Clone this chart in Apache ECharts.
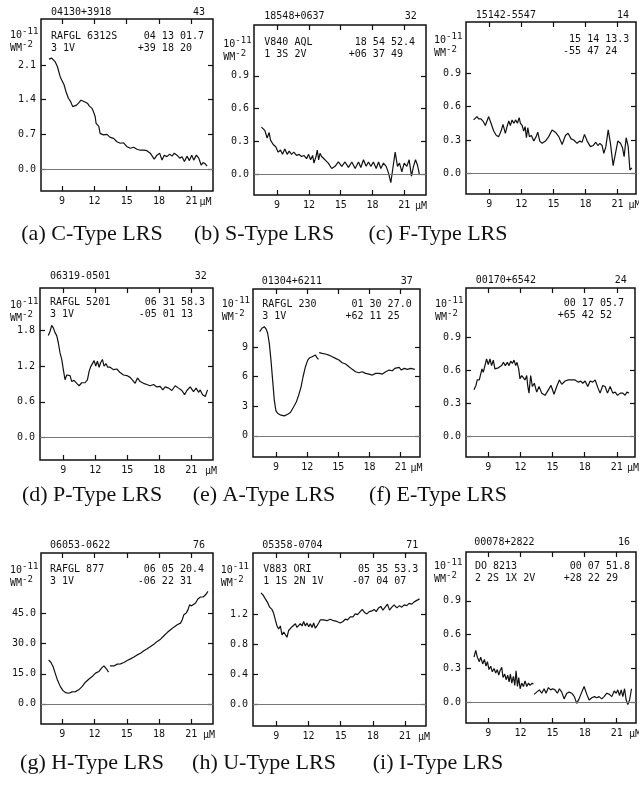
<!DOCTYPE html>
<html><head><meta charset="utf-8">
<script src="https://cdn.jsdelivr.net/npm/echarts@6/dist/echarts.min.js"></script>
<style>html,body{margin:0;padding:0;background:#fff}#c{width:639px;height:788px}</style>
</head><body><div id="c"></div><script>
// ---------- DATA (wavelength in micron, flux in 1e-11 W m^-2) ----------
const cType = [[7.79,2.22],[8.04,2.24],[8.35,2.17],[8.57,2.07],[8.82,1.87],[8.97,1.80],[9.19,1.70],[9.37,1.56],[9.59,1.43],[9.80,1.36],[9.99,1.26],[10.1,1.27],[10.35,1.29],[10.57,1.34],[10.76,1.39],[10.98,1.37],[11.13,1.41],[11.35,1.33],[11.54,1.27],[11.76,1.23],[11.91,1.16],[12.07,1.06],[12.16,0.92],[12.28,0.94],[12.41,0.86],[12.53,0.72],[12.69,0.74],[12.84,0.69],[13.0,0.67],[13.16,0.70],[13.47,0.64],[13.78,0.62],[14.09,0.55],[14.4,0.52],[14.71,0.53],[15.02,0.45],[15.33,0.42],[15.64,0.44],[15.95,0.40],[16.26,0.38],[16.56,0.38],[16.87,0.37],[17.18,0.32],[17.34,0.35],[17.55,0.20],[17.8,0.28],[18.05,0.32],[18.27,0.18],[18.48,0.28],[18.73,0.25],[18.98,0.30],[19.2,0.26],[19.41,0.32],[19.66,0.28],[19.91,0.22],[20.13,0.25],[20.35,0.15],[20.59,0.26],[20.81,0.17],[21.03,0.28],[21.21,0.18],[21.46,0.28],[21.68,0.22],[21.9,0.08],[22.08,0.13],[22.3,0.10],[22.45,0.06]];
const sType = [[7.52,0.43],[7.84,0.40],[8.06,0.33],[8.25,0.38],[8.38,0.31],[8.63,0.27],[8.87,0.25],[9.1,0.20],[9.32,0.22],[9.51,0.18],[9.73,0.23],[9.95,0.18],[10.14,0.21],[10.36,0.18],[10.58,0.20],[10.83,0.17],[11.08,0.18],[11.3,0.16],[11.53,0.17],[11.78,0.14],[11.97,0.18],[12.16,0.13],[12.35,0.17],[12.48,0.10],[12.67,0.16],[12.79,0.22],[12.92,0.13],[13.05,0.19],[13.2,0.16],[13.52,0.13],[13.83,0.10],[14.15,0.05],[14.47,0.07],[14.78,0.11],[15.1,0.07],[15.41,0.11],[15.73,0.06],[16.05,0.11],[16.36,0.05],[16.68,0.11],[16.9,0.06],[17.15,0.13],[17.4,0.07],[17.62,0.11],[17.84,0.07],[18.09,0.11],[18.35,0.05],[18.57,0.11],[18.79,0.05],[19.04,0.10],[19.29,0.07],[19.51,0.01],[19.73,-0.08],[19.92,0.05],[20.14,0.20],[20.36,0.07],[20.55,0.10],[20.77,0.02],[20.99,0.10],[21.24,0.07],[21.46,0.13],[21.68,-0.02],[21.87,0.07],[22.06,0.13],[22.25,0.08],[22.44,-0.01]];
const fType = [[7.53,0.48],[7.69,0.48],[7.84,0.51],[8.0,0.49],[8.22,0.49],[8.41,0.47],[8.63,0.43],[8.94,0.51],[9.16,0.45],[9.41,0.38],[9.66,0.34],[9.88,0.33],[10.1,0.38],[10.28,0.44],[10.5,0.36],[10.66,0.42],[10.82,0.47],[10.97,0.43],[11.13,0.48],[11.29,0.45],[11.47,0.48],[11.63,0.45],[11.79,0.50],[11.91,0.45],[12.07,0.43],[12.22,0.38],[12.35,0.42],[12.47,0.32],[12.6,0.41],[12.75,0.33],[12.94,0.34],[13.16,0.29],[13.38,0.33],[13.53,0.37],[13.72,0.29],[13.94,0.27],[14.25,0.29],[14.56,0.33],[14.87,0.39],[15.18,0.37],[15.5,0.33],[15.81,0.26],[16.12,0.34],[16.37,0.36],[16.65,0.31],[16.9,0.30],[17.21,0.27],[17.46,0.29],[17.68,0.28],[17.9,0.35],[18.15,0.29],[18.46,0.24],[18.71,0.25],[18.96,0.28],[19.15,0.25],[19.34,0.27],[19.55,0.25],[19.71,0.18],[19.9,0.24],[20.12,0.39],[20.33,0.27],[20.58,0.07],[20.8,0.18],[21.02,0.29],[21.27,0.27],[21.46,0.23],[21.61,0.15],[21.8,0.32],[21.99,0.24],[22.15,0.03],[22.33,0.05]];
const pType = [[7.59,1.71],[7.75,1.78],[7.91,1.88],[8.06,1.84],[8.22,1.76],[8.38,1.71],[8.53,1.59],[8.69,1.42],[8.85,1.31],[9.0,1.14],[9.16,0.97],[9.32,1.05],[9.47,1.07],[9.63,1.04],[9.79,0.94],[10.0,0.96],[10.26,0.91],[10.48,0.87],[10.73,0.92],[11.04,0.92],[11.26,0.97],[11.42,1.11],[11.57,1.19],[11.73,1.17],[11.89,1.29],[12.04,1.20],[12.2,1.28],[12.36,1.18],[12.51,1.26],[12.67,1.31],[12.82,1.20],[13.01,1.24],[13.17,1.18],[13.39,1.18],[13.7,1.14],[14.02,1.15],[14.33,1.09],[14.65,1.05],[14.96,1.04],[15.27,1.01],[15.52,0.96],[15.74,0.91],[15.96,1.00],[16.21,0.94],[16.53,0.91],[16.84,0.89],[17.15,0.87],[17.47,0.89],[17.78,0.85],[18.09,0.86],[18.34,0.80],[18.56,0.85],[18.88,0.83],[19.19,0.79],[19.5,0.87],[19.82,0.83],[20.13,0.79],[20.38,0.72],[20.6,0.79],[20.91,0.85],[21.22,0.77],[21.47,0.83],[21.69,0.76],[21.85,0.80],[22.07,0.72],[22.32,0.69],[22.54,0.80]];
const aType = [[7.42,10.58],[7.64,10.92],[7.87,11.08],[8.06,10.81],[8.19,10.41],[8.35,9.39],[8.51,7.69],[8.67,5.66],[8.83,3.63],[8.99,2.54],[9.18,2.27],[9.47,2.10],[9.8,2.03],[10.12,2.20],[10.38,2.37],[10.7,2.95],[10.96,3.46],[11.18,4.14],[11.41,4.98],[11.6,6.0],[11.83,7.02],[12.05,7.69],[12.25,7.93],[12.47,8.03],[12.63,7.97],[12.79,8.2],[12.92,7.97],[13.08,7.76],[13.12,null],[13.15,8.44],[13.44,8.37],[13.76,8.31],[14.08,8.2],[14.41,8.03],[14.73,7.86],[15.05,7.69],[15.37,7.42],[15.7,7.29],[16.02,7.02],[16.34,6.75],[16.66,6.51],[16.98,6.41],[17.3,6.51],[17.62,6.34],[17.95,6.27],[18.27,6.17],[18.59,6.34],[18.91,6.34],[19.23,6.27],[19.56,6.51],[19.88,6.68],[20.2,6.61],[20.43,6.85],[20.62,6.68],[20.85,6.95],[21.07,6.68],[21.33,6.85],[21.65,6.75],[21.97,6.85],[22.36,6.75]];
const eType = [[7.66,0.42],[7.85,0.46],[7.97,0.51],[8.16,0.51],[8.31,0.57],[8.41,0.61],[8.53,0.58],[8.69,0.64],[8.84,0.70],[9.0,0.65],[9.16,0.70],[9.31,0.64],[9.47,0.69],[9.62,0.61],[9.94,0.62],[10.25,0.64],[10.41,0.67],[10.59,0.64],[10.78,0.67],[10.94,0.64],[11.09,0.68],[11.25,0.66],[11.4,0.69],[11.56,0.64],[11.68,0.67],[11.84,0.61],[11.96,0.52],[12.12,0.55],[12.28,0.54],[12.43,0.51],[12.59,0.55],[12.68,0.46],[12.8,0.39],[12.96,0.55],[13.12,0.45],[13.3,0.48],[13.52,0.40],[13.74,0.45],[13.99,0.39],[14.3,0.37],[14.61,0.42],[14.86,0.46],[15.14,0.38],[15.39,0.45],[15.64,0.51],[15.86,0.47],[16.17,0.50],[16.48,0.51],[16.79,0.51],[17.1,0.51],[17.42,0.49],[17.64,0.50],[17.82,0.48],[18.04,0.50],[18.29,0.45],[18.51,0.50],[18.76,0.49],[18.98,0.51],[19.23,0.44],[19.44,0.39],[19.69,0.46],[19.91,0.45],[20.13,0.39],[20.38,0.45],[20.63,0.39],[20.85,0.40],[21.07,0.37],[21.32,0.39],[21.57,0.39],[21.78,0.37],[21.94,0.40],[22.13,0.39]];
const hType = [[7.73,21.9],[7.95,20.6],[8.14,18.6],[8.36,14.95],[8.57,11.6],[8.82,8.6],[9.07,6.6],[9.32,5.6],[9.6,5.3],[9.91,6.0],[10.22,6.1],[10.53,7.0],[10.84,8.6],[11.15,10.8],[11.46,12.3],[11.78,13.6],[12.09,15.3],[12.4,16.1],[12.65,17.8],[12.87,18.9],[13.02,18.1],[13.18,16.9],[13.3,15.8],[13.36,null],[13.43,18.9],[13.8,18.9],[14.11,19.8],[14.42,19.9],[14.73,20.6],[15.04,21.6],[15.35,22.4],[15.66,23.3],[15.97,24.4],[16.28,25.2],[16.59,26.4],[16.9,27.4],[17.21,28.6],[17.52,29.7],[17.83,31.1],[18.14,32.2],[18.45,33.9],[18.76,35.5],[19.07,36.9],[19.38,38.2],[19.69,39.4],[20.0,40.2],[20.16,41.9],[20.31,44.4],[20.53,45.2],[20.69,46.8],[20.84,49.3],[21.03,48.8],[21.18,48.2],[21.4,50.2],[21.61,52.2],[21.86,53.2],[22.11,53.2],[22.33,54.3],[22.55,56.0]];
const uType = [[7.58,1.48],[7.77,1.45],[7.98,1.40],[8.2,1.35],[8.38,1.29],[8.6,1.26],[8.75,1.21],[8.91,1.12],[9.07,1.04],[9.22,1.00],[9.38,1.04],[9.53,0.92],[9.69,0.96],[9.84,0.95],[10.0,0.89],[10.15,0.98],[10.31,0.99],[10.47,1.03],[10.62,1.01],[10.78,1.07],[10.93,1.02],[11.09,1.04],[11.24,1.07],[11.4,1.04],[11.55,1.10],[11.71,1.04],[11.86,1.08],[12.02,1.03],[12.17,1.07],[12.33,1.02],[12.48,1.08],[12.64,1.01],[12.79,1.04],[12.95,1.08],[13.1,1.12],[13.41,1.12],[13.72,1.11],[14.03,1.13],[14.34,1.11],[14.65,1.10],[14.96,1.08],[15.21,1.10],[15.43,1.13],[15.64,1.12],[15.89,1.16],[16.14,1.16],[16.36,1.20],[16.57,1.19],[16.82,1.23],[17.01,1.26],[17.22,1.22],[17.44,1.20],[17.66,1.23],[17.91,1.24],[18.12,1.26],[18.31,1.23],[18.53,1.28],[18.74,1.30],[18.93,1.25],[19.15,1.29],[19.36,1.33],[19.55,1.25],[19.77,1.29],[19.98,1.32],[20.23,1.28],[20.48,1.31],[20.7,1.29],[20.91,1.32],[21.16,1.31],[21.38,1.34],[21.63,1.33],[21.85,1.36],[22.1,1.38],[22.35,1.40]];
const iType = [[7.66,0.40],[7.82,0.46],[7.97,0.40],[8.16,0.36],[8.28,0.40],[8.47,0.34],[8.63,0.38],[8.78,0.32],[8.91,0.36],[9.06,0.29],[9.22,0.32],[9.37,0.27],[9.53,0.30],[9.69,0.26],[9.84,0.29],[9.97,0.24],[10.09,0.28],[10.25,0.31],[10.37,0.22],[10.53,0.25],[10.66,0.20],[10.81,0.24],[10.94,0.18],[11.06,0.25],[11.19,0.17],[11.34,0.23],[11.47,0.15],[11.59,0.28],[11.72,0.14],[11.84,0.22],[11.97,0.12],[12.12,0.17],[12.28,0.14],[12.43,0.19],[12.59,0.14],[12.75,0.17],[12.9,0.15],[13.09,0.17],[13.21,0.16],[13.24,null],[13.27,0.07],[13.52,0.09],[13.77,0.11],[13.99,0.08],[14.21,0.12],[14.39,0.08],[14.61,0.13],[14.83,0.11],[15.02,0.12],[15.23,0.11],[15.45,0.08],[15.64,0.12],[15.86,0.09],[16.08,0.03],[16.33,0.08],[16.55,0.09],[16.79,0.08],[17.04,0.05],[17.26,-0.01],[17.48,0.03],[17.73,0.09],[17.95,0.14],[18.2,0.07],[18.42,0.02],[18.67,0.04],[18.91,0.05],[19.13,0.04],[19.35,0.05],[19.6,0.03],[19.82,0.05],[20.07,0.08],[20.32,0.07],[20.54,0.05],[20.76,0.10],[20.95,0.08],[21.1,0.11],[21.26,0.06],[21.42,0.11],[21.57,0.05],[21.73,0.12],[21.88,0.02],[22.04,-0.02],[22.2,0.02],[22.38,0.12]];

const xTickValues = [9, 12, 15, 18, 21];
const yTickValues = [[0,0.7,1.4,2.1],[0,0.3,0.6,0.9],[0,0.3,0.6,0.9],[0,0.6,1.2,1.8],[0,3,6,9],[0,0.3,0.6,0.9],[0,15,30,45],[0,0.4,0.8,1.2],[0,0.3,0.6,0.9]];
const yDecimals = [1,1,1,1,0,1,1,1,1];
const seriesData = [cType, sType, fType, pType, aType, eType, hType, uType, iType];
const iraName = ['04130+3918','18548+0637','15142-5547','06319-0501','01304+6211','00170+6542','06053-0622','05358-0704','00078+2822'];
const plotNo = ['43','32','14','32','37','24','76','71','16'];
const objName = ['RAFGL 6312S','V840 AQL','','RAFGL 5201','RAFGL 230','','RAFGL 877','V883 ORI','DO 8213'];
const objCode = ['3 1V','1 3S 2V','','3 1V','3 1V','','3 1V','1 1S 2N 1V','2 2S 1X 2V'];
const raText = [' 04 13 01.7',' 18 54 52.4',' 15 14 13.3',' 06 31 58.3',' 01 30 27.0',' 00 17 05.7',' 06 05 20.4',' 05 35 53.3',' 00 07 51.8'];
const decText = ['+39 18 20','+06 37 49','-55 47 24','-05 01 13','+62 11 25','+65 42 52','-06 22 31','-07 04 07','+28 22 29'];
const unitRich = '{n|10}{s|-11}\n{n|WM}{s|-2}';
const xUnitText = 'μM';
const captions = ['(a) C-Type LRS','(b) S-Type LRS','(c) F-Type LRS','(d) P-Type LRS','(e) A-Type LRS','(f) E-Type LRS','(g) H-Type LRS','(h) U-Type LRS','(i) I-Type LRS'];

// ---------- LAYOUT ----------
const boxes = [
  {l:41,t:19,r:213,b:191},{l:254,t:25,r:426,b:195},{l:466,t:22,r:636,b:194},
  {l:40,t:288,r:213,b:460},{l:253,t:289,r:420,b:457},{l:466,t:288,r:635,b:457},
  {l:41,t:553,r:213,b:724},{l:253,t:553,r:426,b:726},{l:466,t:552,r:636,b:723}
];
const xRange = [[7.05,23.0],[6.82,23.05],[6.82,22.72],[6.81,23.05],[6.78,22.86],[6.92,22.7],[7.02,23.02],[6.83,22.95],[6.91,22.8]];
const yRange = [[-0.444,3.03],[-0.193,1.367],[-0.185,1.359],[-0.374,2.507],[-2.14,14.9],[-0.19,1.345],[-10,75.1],[-0.29,2.01],[-0.184,1.333]];
const headY = [12,16,15.7,276.7,281.7,280,545,545,542.7];
const idLeft = [51,264.3,475.7,50,261.7,475.7,50,262.3,474.3];
const noRight = [205,416.7,629,206.7,412.7,626.7,205,418.3,630];
const inLeft = [51,264.3,476,50,262.3,476,50,263.3,475];
const inY = [36,42.3,39.3,302.3,304,303.3,569,569,566.7];
const raRight = [204,415,629.3,205,411.7,624,204,418.3,630];
const unitLeft = [10,223.3,434,10,221.7,435,10,220.7,434];
const unitY = [34,43.3,39.3,304.3,303.3,303.3,569.3,569.3,565];
const muX = [205.5,421,634.5,211,416.5,633,209,424,635];
const capX = [92,264,438];
const capY = [234,495,763];

const MONO = '"DejaVu Sans Mono", monospace';
const INK = '#111';
const CW = 6.02;

const grids = [], xAxes = [], yAxes = [], series = [], graphics = [];
function txt(x, y, text, align, font, lh) {
  graphics.push({type:'text', x, y, silent:true, style:{text, fill:INK, font, align, verticalAlign:'middle', textAlign:align, textVerticalAlign:'middle', lineHeight: lh || 12}});
}
boxes.forEach((b, i) => {
  const w = b.r - b.l, h = b.b - b.t;
  const xr = xRange[i], yr = yRange[i];
  grids.push({left:b.l, top:b.t, width:w, height:h, show:true, borderColor:INK, borderWidth:1.5, backgroundColor:'transparent', containLabel:false});
  const tick = (vals) => ({show:true, inside:true, length:5, customValues: vals, lineStyle:{color:INK, width:1.2}});
  const noLine = {show:false, onZero:false};
  xAxes.push({gridIndex:i, type:'value', position:'bottom', min:xr[0], max:xr[1],
    axisLine:noLine, splitLine:{show:false}, axisTick: tick(xTickValues),
    axisLabel:{customValues: xTickValues, formatter: v => String(v),
      margin:5, fontFamily:MONO, fontSize:10, color:INK}});
  xAxes.push({gridIndex:i, type:'value', position:'top', min:xr[0], max:xr[1],
    axisLine:noLine, splitLine:{show:false}, axisTick: tick(xTickValues), axisLabel:{show:false}});
  yAxes.push({gridIndex:i, type:'value', position:'left', min:yr[0], max:yr[1],
    axisLine:noLine, splitLine:{show:false}, axisTick: tick(yTickValues[i]),
    axisLabel:{customValues: yTickValues[i], formatter: v => v.toFixed(yDecimals[i]),
      margin:5, fontFamily:MONO, fontSize:10, color:INK}});
  yAxes.push({gridIndex:i, type:'value', position:'right', min:yr[0], max:yr[1],
    axisLine:noLine, splitLine:{show:false}, axisTick: tick(yTickValues[i]), axisLabel:{show:false}});
  series.push({type:'line', xAxisIndex:2*i, yAxisIndex:2*i, data: seriesData[i],
    showSymbol:false, symbol:'none', connectNulls:false, animation:false,
    lineStyle:{color:INK, width:1.2},
    markLine:{silent:true, symbol:['none','none'], animation:false, label:{show:false},
      lineStyle:{color:'#777', width:1, type:'solid'}, data:[{yAxis:0}]}});
  const f10 = '10px ' + MONO;
  txt(idLeft[i], headY[i], iraName[i], 'left', f10);
  txt(noRight[i], headY[i], plotNo[i], 'right', f10);
  if (objName[i]) txt(inLeft[i], inY[i] + 6, objName[i] + '\n' + objCode[i], 'left', f10, 12);
  txt(raRight[i] - 11*CW, inY[i] + 6, raText[i] + '\n' + decText[i], 'left', f10, 12);
  graphics.push({type:'text', x: unitLeft[i], y: unitY[i] - 7, silent:true,
    style:{text: unitRich, fill:INK, font: f10, align:'left', textAlign:'left', verticalAlign:'top', textVerticalAlign:'top',
      rich:{
        n:{fontFamily:MONO, fontSize:10, lineHeight:13, verticalAlign:'bottom', fill:INK},
        s:{fontFamily:MONO, fontSize:9, lineHeight:8, verticalAlign:'top', fill:INK}
      }}});
  txt(muX[i], b.b + 11, xUnitText, 'center', f10);
  txt(capX[i % 3], capY[Math.floor(i / 3)], captions[i], 'center', '22px "Liberation Serif", serif');
});

const chart = echarts.init(document.getElementById('c'), null, {renderer:'canvas'});
chart.setOption({animation:false, backgroundColor:'#fff', grid:grids, xAxis:xAxes, yAxis:yAxes, series, graphic:{elements:graphics}});
</script></body></html>
